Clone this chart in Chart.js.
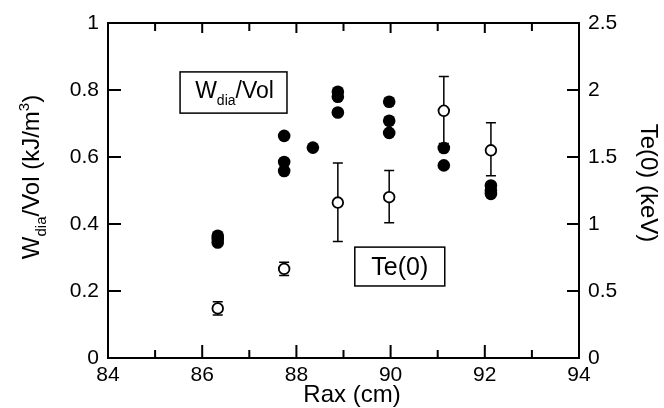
<!DOCTYPE html>
<html>
<head>
<meta charset="utf-8">
<script src="https://cdn.jsdelivr.net/npm/chart.js@4"></script>
<style>
    html, body { margin: 0; padding: 0; background: #fff; }
    #wrap { width: 664px; height: 408px; }
</style>
</head>
<body>
<div id="wrap"><canvas id="chart" width="664" height="408"></canvas></div>
<script>
// W_dia/Vol (filled circles, left axis)
const raxW = [86.33, 86.33, 86.33, 87.74, 87.74, 87.74, 88.35, 88.88, 88.88, 88.88,
    89.97, 89.97, 89.97, 91.13, 91.13, 92.13, 92.13, 92.13];
const wdia = [0.365, 0.355, 0.345, 0.663, 0.585, 0.558, 0.628, 0.795, 0.78, 0.733,
    0.765, 0.708, 0.672, 0.627, 0.575, 0.515, 0.50, 0.49];

// Te(0) (open circles, right axis) with error bars
const raxTe = [86.33, 87.74, 88.88, 89.97, 91.13, 92.13];
const te = [0.37, 0.665, 1.16, 1.2, 1.845, 1.55];
const teLow = [0.32, 0.615, 0.87, 1.01, 1.6, 1.36];
const teHigh = [0.42, 0.715, 1.455, 1.40, 2.10, 1.755];

const xTickLabels = ['84', '86', '88', '90', '92', '94'];
const leftTickLabels = ['0', '0.2', '0.4', '0.6', '0.8', '1'];
const rightTickLabels = ['0', '0.5', '1', '1.5', '2', '2.5'];

const FONT = "'Liberation Sans', Arial, sans-serif";

const decor = {
    id: 'decor',
    beforeDatasetsDraw(chart) {
        const ctx = chart.ctx;
        const x = chart.scales.x, yr = chart.scales.y1;
        ctx.save();
        ctx.strokeStyle = '#000';
        ctx.lineWidth = 1.5;
        raxTe.forEach((r, i) => {
            const px = x.getPixelForValue(r);
            const top = yr.getPixelForValue(teHigh[i]);
            const bot = yr.getPixelForValue(teLow[i]);
            ctx.beginPath();
            ctx.moveTo(px, top); ctx.lineTo(px, bot);
            ctx.moveTo(px - 5, top); ctx.lineTo(px + 5, top);
            ctx.moveTo(px - 5, bot); ctx.lineTo(px + 5, bot);
            ctx.stroke();
        });
        ctx.restore();
    },
    afterDraw(chart) {
        const ctx = chart.ctx;
        const a = chart.chartArea;
        const x = chart.scales.x, yl = chart.scales.y, yr = chart.scales.y1;
        ctx.save();
        ctx.strokeStyle = '#000';
        ctx.fillStyle = '#000';

        // frame
        ctx.lineWidth = 2;
        ctx.strokeRect(a.left, a.top, a.right - a.left, a.bottom - a.top);

        // inward ticks
        const xMajor = xTickLabels.map(Number);
        const xMinor = xMajor.slice(1).map((v, i) => (v + xMajor[i]) / 2);
        const w = 2;
        xMajor.forEach((v) => {
            const px = x.getPixelForValue(v);
            ctx.fillRect(px - w / 2, a.bottom - 13, w, 13);
            ctx.fillRect(px - w / 2, a.top, w, 10);
        });
        xMinor.forEach((v) => {
            const px = x.getPixelForValue(v);
            ctx.fillRect(px - w / 2, a.bottom - 8, w, 8);
            ctx.fillRect(px - w / 2, a.top, w, 8);
        });
        leftTickLabels.map(Number).forEach((v) => {
            const py = yl.getPixelForValue(v);
            ctx.fillRect(a.left, py - w / 2, 13, w);
        });
        rightTickLabels.map(Number).forEach((v) => {
            const py = yr.getPixelForValue(v);
            ctx.fillRect(a.right - 12, py - w / 2, 12, w);
        });

        // label boxes
        ctx.lineWidth = 1.5;
        const bx1 = x.getPixelForValue(85.53), bx2 = x.getPixelForValue(87.8);
        const by1 = yl.getPixelForValue(0.854), by2 = yl.getPixelForValue(0.731);
        ctx.strokeRect(bx1, by1, bx2 - bx1, by2 - by1);
        drawWdia(ctx, (bx1 + bx2) / 2 + 1, by1 + 26, 23, 14, 7);

        const tx1 = x.getPixelForValue(89.24), tx2 = x.getPixelForValue(91.15);
        const ty1 = yl.getPixelForValue(0.331), ty2 = yl.getPixelForValue(0.215);
        ctx.strokeRect(tx1, ty1, tx2 - tx1, ty2 - ty1);
        ctx.font = '25px ' + FONT;
        ctx.textAlign = 'center';
        ctx.textBaseline = 'alphabetic';
        ctx.fillText('Te(0)', (tx1 + tx2) / 2, ty1 + 28);

        // axis titles
        ctx.font = '24px ' + FONT;
        ctx.textAlign = 'center';
        ctx.textBaseline = 'middle';
        ctx.fillText('Rax (cm)', 352, 395);

        ctx.save();
        ctx.translate(648, 183);
        ctx.rotate(Math.PI / 2);
        ctx.fillText('Te(0) (keV)', 0, 0);
        ctx.restore();

        ctx.save();
        ctx.translate(39, 177);
        ctx.rotate(-Math.PI / 2);
        drawLeftTitle(ctx);
        ctx.restore();

        ctx.restore();
    }
};

function drawWdia(ctx, cx, base, size, subSize, subOff) {
    ctx.textAlign = 'left';
    ctx.textBaseline = 'alphabetic';
    ctx.font = size + 'px ' + FONT;
    const w1 = ctx.measureText('W').width;
    const w3 = ctx.measureText('/Vol').width;
    ctx.font = subSize + 'px ' + FONT;
    const w2 = ctx.measureText('dia').width;
    let px = cx - (w1 + w2 + w3) / 2;
    ctx.font = size + 'px ' + FONT;
    ctx.fillText('W', px, base); px += w1;
    ctx.font = subSize + 'px ' + FONT;
    ctx.fillText('dia', px, base + subOff); px += w2;
    ctx.font = size + 'px ' + FONT;
    ctx.fillText('/Vol', px, base);
}

function drawLeftTitle(ctx) {
    const big = '24px ' + FONT, small = '15px ' + FONT;
    const parts = [
        { t: 'W', f: big, dy: 0 },
        { t: 'dia', f: small, dy: 7 },
        { t: '/Vol (kJ/m', f: big, dy: 0 },
        { t: '3', f: small, dy: -10 },
        { t: ')', f: big, dy: 0 }
    ];
    let total = 0;
    parts.forEach((p) => { ctx.font = p.f; p.w = ctx.measureText(p.t).width; total += p.w; });
    ctx.textAlign = 'left';
    ctx.textBaseline = 'alphabetic';
    let px = -total / 2;
    parts.forEach((p) => {
        ctx.font = p.f;
        ctx.fillText(p.t, px, p.dy);
        px += p.w;
    });
}

new Chart(document.getElementById('chart'), {
    type: 'scatter',
    data: {
        datasets: [{
            label: 'Wdia/Vol',
            data: raxW.map((r, i) => ({ x: r, y: wdia[i] })),
            yAxisID: 'y',
            pointRadius: 6.3,
            pointBackgroundColor: '#000',
            pointBorderColor: '#000',
            pointBorderWidth: 0,
        }, {
            label: 'Te(0)',
            data: raxTe.map((r, i) => ({ x: r, y: te[i] })),
            yAxisID: 'y1',
            pointRadius: 5.3,
            pointBackgroundColor: '#fff',
            pointBorderColor: '#000',
            pointBorderWidth: 1.8,
        }],
    },
    options: {
        responsive: false,
        animation: false,
        events: [],
        layout: { padding: { top: 23, left: 0, right: 0, bottom: 0 } },
        plugins: { legend: { display: false }, tooltip: { enabled: false } },
        scales: {
            x: {
                type: 'linear',
                min: 84,
                max: 94,
                afterFit: (s) => { s.height = 50; },
                grid: { display: false, drawTicks: false },
                border: { display: false },
                ticks: {
                    stepSize: 2,
                    autoSkip: false,
                    maxRotation: 0,
                    padding: 5,
                    color: '#000',
                    font: { family: FONT, size: 21 },
                    callback: (v, i) => xTickLabels[i],
                },
            },
            y: {
                position: 'left',
                min: 0,
                max: 1,
                afterFit: (s) => { s.width = 108; },
                grid: { display: false, drawTicks: false },
                border: { display: false },
                ticks: {
                    stepSize: 0.2,
                    padding: 9,
                    color: '#000',
                    font: { family: FONT, size: 21 },
                    callback: (v, i) => leftTickLabels[i],
                },
            },
            y1: {
                position: 'right',
                min: 0,
                max: 2.5,
                afterFit: (s) => { s.width = 85; },
                grid: { display: false, drawTicks: false },
                border: { display: false },
                ticks: {
                    stepSize: 0.5,
                    padding: 9,
                    color: '#000',
                    font: { family: FONT, size: 21 },
                    callback: (v, i) => rightTickLabels[i],
                },
            },
        },
    },
    plugins: [decor],
});
</script>
</body>
</html>
